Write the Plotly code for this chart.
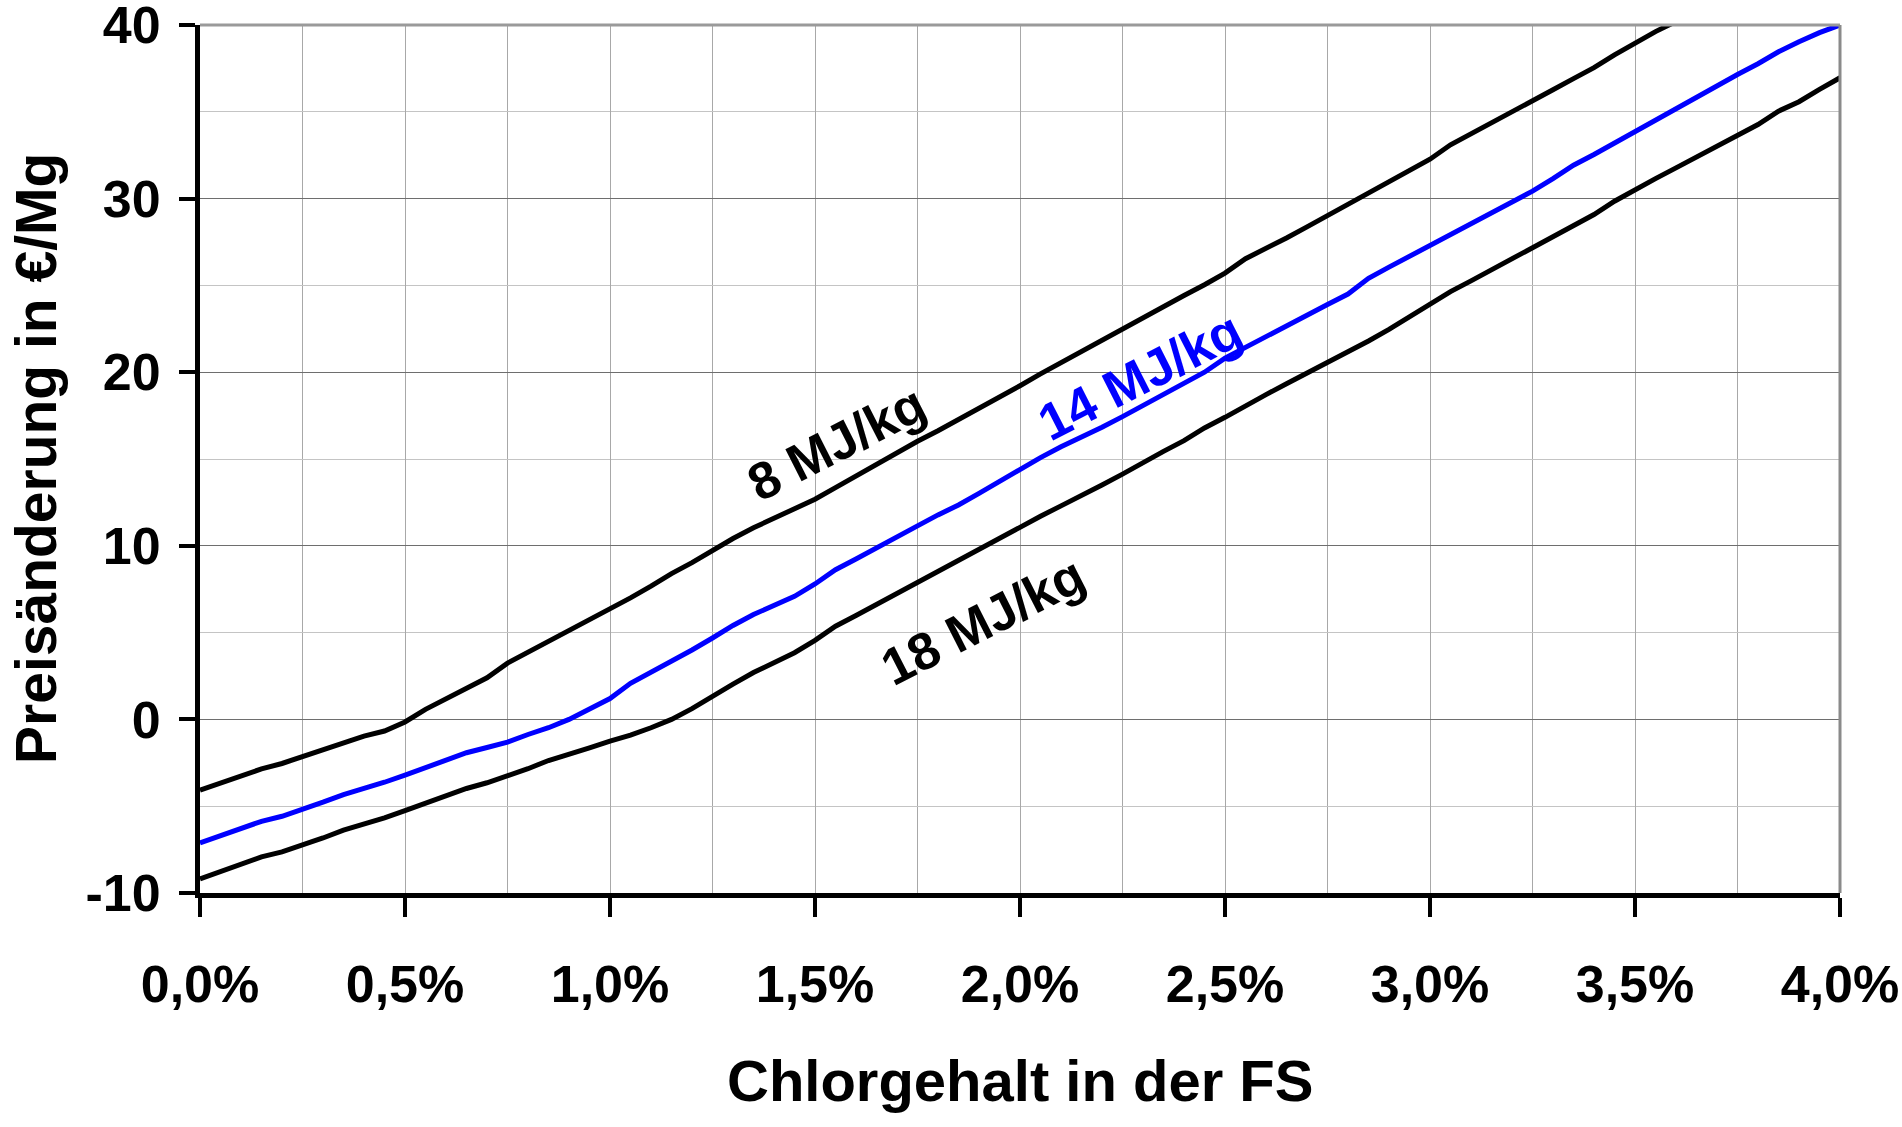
import plotly.graph_objects as go

chlor_pct = [round(i * 0.05, 2) for i in range(81)]

mj8 = [-4.08, -3.65, -3.23, -2.85, -2.54, -2.15, -1.73, -1.31, -0.96, -0.67,
       -0.15, 0.58, 1.19, 1.77, 2.40, 3.24, 3.86, 4.48, 5.12, 5.75,
       6.37, 7.00, 7.68, 8.40, 9.03, 9.75, 10.42, 11.04, 11.60, 12.15,
       12.68, 13.35, 14.02, 14.74, 15.35, 16.02, 16.63, 17.27, 17.88, 18.57,
       19.22, 19.90, 20.55, 21.25, 21.88, 22.54, 23.17, 23.81, 24.42, 25.04,
       25.71, 26.54, 27.12, 27.73, 28.37, 29.02, 29.66, 30.34, 30.98, 31.59,
       32.27, 33.10, 33.72, 34.34, 34.98, 35.65, 36.27, 36.91, 37.54, 38.28,
       38.98, 39.62, 40.20]

mj14 = [-7.12, -6.69, -6.31, -5.87, -5.58, -5.19, -4.77, -4.33, -4.00, -3.62,
        -3.21, -2.79, -2.37, -1.92, -1.62, -1.31, -0.87, -0.48, 0.00, 0.62,
        1.20, 2.08, 2.70, 3.34, 4.00, 4.69, 5.41, 6.04, 6.55, 7.09,
        7.80, 8.62, 9.24, 9.85, 10.48, 11.15, 11.78, 12.35, 13.02, 13.73,
        14.44, 15.08, 15.70, 16.25, 16.83, 17.44, 18.08, 18.71, 19.29, 20.00,
        20.81, 21.44, 22.02, 22.63, 23.27, 23.90, 24.50, 25.41, 26.05, 26.67,
        27.30, 27.96, 28.56, 29.18, 29.82, 30.43, 31.15, 31.92, 32.54, 33.20,
        33.88, 34.56, 35.23, 35.85, 36.48, 37.15, 37.77, 38.46, 39.04, 39.56,
        40.00]

mj18 = [-9.19, -8.75, -8.37, -7.92, -7.63, -7.25, -6.83, -6.38, -6.06, -5.67,
        -5.25, -4.81, -4.38, -3.98, -3.65, -3.28, -2.84, -2.37, -2.03, -1.64,
        -1.25, -0.91, -0.48, 0.00, 0.62, 1.35, 2.03, 2.70, 3.25, 3.84,
        4.55, 5.37, 5.98, 6.62, 7.27, 7.90, 8.57, 9.20, 9.85, 10.48,
        11.05, 11.70, 12.30, 12.88, 13.50, 14.13, 14.81, 15.44, 16.06, 16.79,
        17.40, 18.08, 18.71, 19.33, 19.94, 20.55, 21.12, 21.80, 22.47, 23.19,
        23.96, 24.64, 25.26, 25.89, 26.51, 27.15, 27.79, 28.44, 29.08, 29.85,
        30.52, 31.15, 31.77, 32.38, 33.00, 33.65, 34.27, 35.04, 35.58, 36.29,
        36.96]

x_tickvals = [0.0, 0.5, 1.0, 1.5, 2.0, 2.5, 3.0, 3.5, 4.0]
x_ticktext = ["0,0%", "0,5%", "1,0%", "1,5%", "2,0%", "2,5%", "3,0%", "3,5%", "4,0%"]
y_tickvals = [-10, 0, 10, 20, 30, 40]
y_ticktext = ["-10", "0", "10", "20", "30", "40"]

series_labels = ["8 MJ/kg", "14 MJ/kg", "18 MJ/kg"]
label_pos = [(1.553, 15.95), (2.293, 19.8), (1.909, 5.68)]

FONT = "Liberation Sans, Arial, sans-serif"

fig = go.Figure()
fig.add_trace(go.Scatter(x=chlor_pct[:len(mj8)], y=mj8, mode="lines",
                         line=dict(color="#000000", width=5), name=series_labels[0]))
fig.add_trace(go.Scatter(x=chlor_pct, y=mj14, mode="lines",
                         line=dict(color="#0000ff", width=5), name=series_labels[1]))
fig.add_trace(go.Scatter(x=chlor_pct, y=mj18, mode="lines",
                         line=dict(color="#000000", width=5), name=series_labels[2]))

colors = ["#000000", "#0000ff", "#000000"]
for lab, (px, py), c in zip(series_labels, label_pos, colors):
    fig.add_annotation(x=px, y=py, text="<b>%s</b>" % lab, showarrow=False,
                       textangle=-27, xanchor="center", yanchor="middle",
                       font=dict(family=FONT, size=52, color=c))

fig.add_annotation(xref="paper", yref="paper", x=-0.100, y=0.5,
                   text="<b>Preisänderung in €/Mg</b>", textangle=-90,
                   showarrow=False, xanchor="center", yanchor="middle",
                   font=dict(family=FONT, size=57, color="#000000"))
fig.add_annotation(xref="paper", yref="paper", x=0.5, y=-0.216,
                   text="<b>Chlorgehalt in der FS</b>",
                   showarrow=False, xanchor="center", yanchor="middle",
                   font=dict(family=FONT, size=58, color="#000000"))

# top and right frame lines
fig.add_shape(type="line", xref="paper", yref="paper", x0=0, x1=1, y0=1, y1=1,
              line=dict(color="#9a9a9a", width=3))
fig.add_shape(type="line", xref="paper", yref="paper", x0=1, x1=1, y0=0, y1=1,
              line=dict(color="#8a8a8a", width=3))

fig.update_xaxes(range=[0, 4], tickvals=x_tickvals, ticktext=x_ticktext,
                 showgrid=True, gridcolor="#a8a8a8", gridwidth=1,
                 minor=dict(tickvals=[0.25, 0.75, 1.25, 1.75, 2.25, 2.75, 3.25, 3.75],
                            showgrid=True, gridcolor="#a8a8a8", gridwidth=1, ticks=""),
                 showline=True, linecolor="#000000", linewidth=5,
                 ticks="outside", ticklen=19, tickwidth=4, tickcolor="#000000",
                 ticklabelstandoff=23, ticklabeloverflow="allow", automargin=False,
                 tickfont=dict(family=FONT, size=52, color="#000000", weight="bold"),
                 zeroline=False)
fig.update_yaxes(range=[-10, 40], tickvals=y_tickvals, ticktext=y_ticktext,
                 showgrid=True, gridcolor="#6e6e6e", gridwidth=1,
                 minor=dict(tickvals=[-5, 5, 15, 25, 35], showgrid=True,
                            gridcolor="#c4c4c4", gridwidth=1, ticks=""),
                 showline=True, linecolor="#000000", linewidth=5,
                 ticks="outside", ticklen=16, tickwidth=4, tickcolor="#000000",
                 ticklabelstandoff=8, ticklabeloverflow="allow", automargin=False,
                 tickfont=dict(family=FONT, size=52, color="#000000", weight="bold"),
                 zeroline=False)

fig.update_layout(width=1902, height=1127, autosize=False,
                  margin=dict(l=200, r=62, t=25, b=234, autoexpand=False),
                  paper_bgcolor="#ffffff", plot_bgcolor="#ffffff",
                  showlegend=False)

fig.write_html("out.html", config={"displayModeBar": False},
               post_script="document.body.style.margin='0px';document.body.style.overflow='hidden';")
